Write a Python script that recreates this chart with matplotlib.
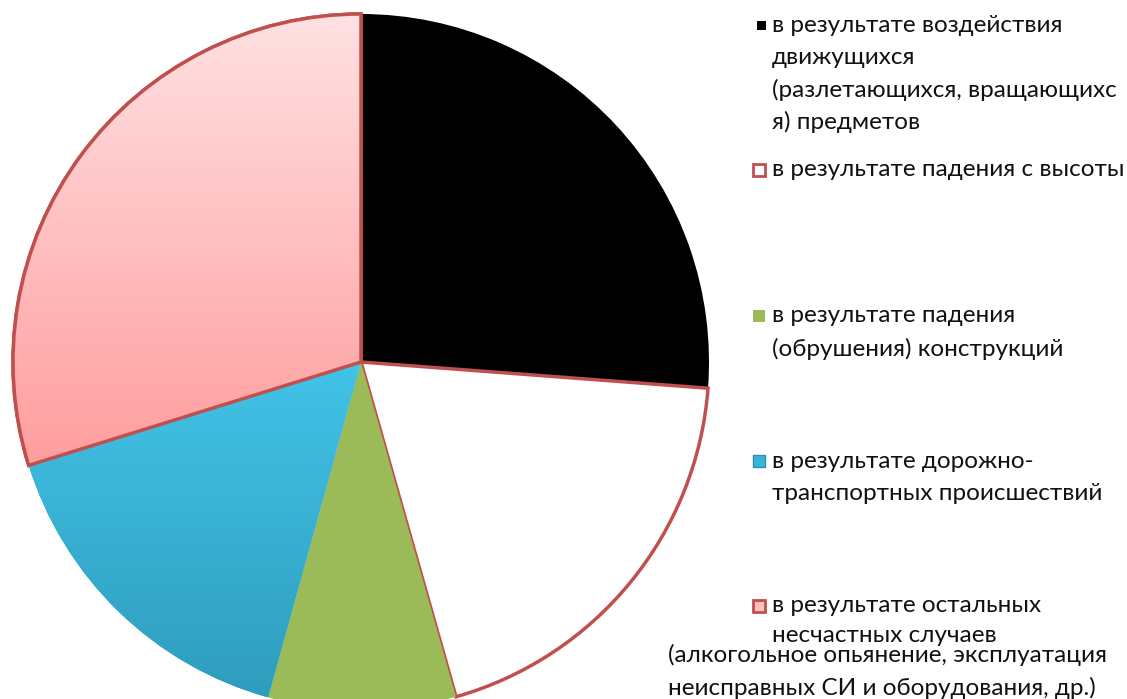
import matplotlib.pyplot as plt
import matplotlib.patches as mpatches
from matplotlib.colors import LinearSegmentedColormap
import numpy as np

# Доли причин несчастных случаев, %
labels = [
    "в результате воздействия движущихся (разлетающихся, вращающихся) предметов",
    "в результате падения с высоты",
    "в результате падения (обрушения) конструкций",
    "в результате дорожно-транспортных происшествий",
    "в результате остальных несчастных случаев",
]
shares = [26.2, 19.4, 8.7, 15.9, 29.8]
colors = ["#000000", "#ffffff", "#9bbb59", "#3ab4d8", "#ffb3b5"]
edge = "#c0504d"

W, H = 1127, 699
fig = plt.figure(figsize=(W / 100, H / 100), dpi=100)
ax = fig.add_axes([0, 0, 1, 1])
ax.set_xlim(0, W)
ax.set_ylim(0, H)
ax.axis('off')

def py(y):
    # пиксели сверху -> координаты осей снизу
    return H - y

wedges, _ = ax.pie(shares, colors=colors, startangle=90, counterclock=False,
                   center=(361, py(362)), radius=348, explode=[0.01, 0, 0, 0, 0],
                   wedgeprops=dict(linewidth=0))
ax.set_xlim(0, W)
ax.set_ylim(0, H)
ax.set_aspect('equal')

# красная обводка у белого и розового секторов
for i in (1, 4):
    wedges[i].set_edgecolor(edge)
    wedges[i].set_linewidth(2.5)

# градиент в розовом и голубом секторах
def gradient(w, c_top, c_bot):
    bb = w.get_path().get_extents()
    cmap = LinearSegmentedColormap.from_list("g", [c_bot, c_top])
    grad = np.linspace(0, 1, 256).reshape(-1, 1)
    im = ax.imshow(grad, cmap=cmap, origin='lower', aspect='auto',
                   extent=[bb.x0, bb.x1, bb.y0, bb.y1], zorder=wedges[0].get_zorder() + 0.1)
    im.set_clip_path(w)
    ax.add_patch(mpatches.Wedge(w.center, w.r, w.theta1, w.theta2, facecolor='none',
                                edgecolor=w.get_edgecolor(), linewidth=w.get_linewidth(),
                                zorder=wedges[0].get_zorder() + 0.2))

gradient(wedges[4], "#ffe1e3", "#ff9d9e")
gradient(wedges[3], "#42c3e8", "#2f9dbd")
ax.set_xlim(0, W)
ax.set_ylim(0, H)

# легенда
font = dict(family="Lato", fontsize=17.5, color="#111111", va='center')

def line(x, y, s):
    ax.text(x, py(y), s, **font)

line(772, 25, "в результате воздействия")
line(772, 57, "движущихся")
line(772, 90, "(разлетающихся, вращающихс")
line(772, 122, "я) предметов")
line(772, 170, "в результате падения с высоты")
line(772, 316, "в результате падения")
line(772, 349, "(обрушения) конструкций")
line(772, 461, "в результате дорожно-")
line(772, 493, "транспортных происшествий")
line(772, 606, "в результате остальных")
line(772, 636, "несчастных случаев")
line(668, 655, "(алкогольное опьянение, эксплуатация")
line(668, 688, "неисправных СИ и оборудования, др.)")

def marker(x, y, size, fc, ec=None, lw=0):
    ax.add_patch(mpatches.Rectangle((x, py(y) - size / 2), size, size, facecolor=fc,
                                    edgecolor=ec if ec else fc, linewidth=lw))

marker(757, 25, 9, colors[0])
marker(753, 170, 12, "#ffffff", edge, 2)
marker(753, 316, 12, colors[2])
marker(753, 461, 12, colors[3], "#2f8fb0", 1)
marker(753, 606, 12, "#ffc0c0", edge, 2)

fig.savefig("out.png", dpi=100)
